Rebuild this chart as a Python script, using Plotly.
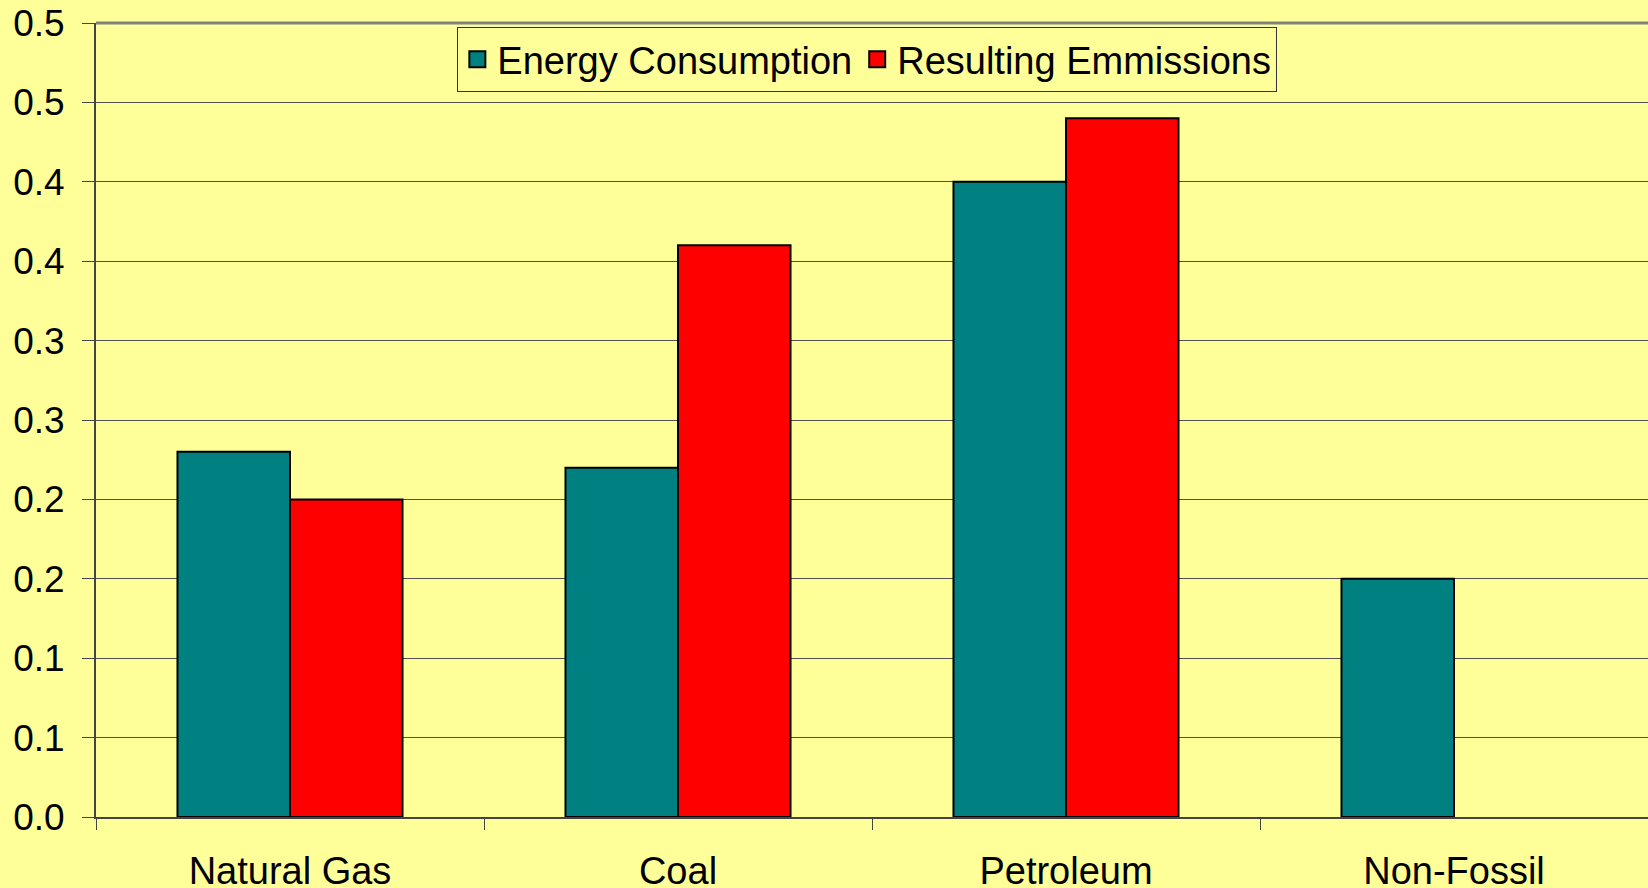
import plotly.graph_objects as go

categories = ["Natural Gas", "Coal", "Petroleum", "Non-Fossil"]
energy_consumption = [0.23, 0.22, 0.40, 0.15]
resulting_emissions = [0.20, 0.36, 0.44, None]
series_names = ["Energy Consumption", "Resulting Emmissions"]
series_colors = ["#008080", "#FF0000"]
y_tickvals = [0.0, 0.05, 0.10, 0.15, 0.20, 0.25, 0.30, 0.35, 0.40, 0.45, 0.50]
y_ticktext = ["0.0", "0.1", "0.1", "0.2", "0.2", "0.3", "0.3", "0.4", "0.4", "0.5", "0.5"]

BG = "#FFFF99"
FONT = "Liberation Sans, Arial, sans-serif"

fig = go.Figure()
for name, color, values in zip(series_names, series_colors,
                               [energy_consumption, resulting_emissions]):
    fig.add_trace(go.Bar(
        x=categories, y=values, name=name, legendgroup=name, showlegend=False,
        marker=dict(color=color, line=dict(color="#000000", width=2)),
    ))
# legend swatches (larger squares, like the original)
for name, color in zip(series_names, series_colors):
    fig.add_trace(go.Scatter(
        x=[None], y=[None], mode="markers", name=name, legendgroup=name,
        marker=dict(symbol="square", size=16, color=color,
                    line=dict(color="#000000", width=2)),
        hoverinfo="skip",
    ))

fig.update_layout(
    width=1648, height=888,
    paper_bgcolor=BG, plot_bgcolor=BG,
    margin=dict(l=96, r=0, t=23, b=71, autoexpand=False),
    barmode="group", bargap=0.42, bargroupgap=0,
    font=dict(family=FONT, color="#000000", size=37),
    showlegend=True,
    legend=dict(
        orientation="h", x=0.497, xanchor="center", y=0.995, yanchor="top",
        bgcolor=BG, bordercolor="#333333", borderwidth=1,
        font=dict(size=38, family=FONT), itemsizing="trace",
        itemclick=False, itemdoubleclick=False,
    ),
    xaxis=dict(
        type="category", showgrid=False, tickson="boundaries",
        ticks="outside", ticklen=11, tickcolor="#444444", tickwidth=1,
        showline=True, linecolor="#444444", linewidth=2,
        tickfont=dict(size=38, family=FONT), ticklabelstandoff=19,
    ),
    yaxis=dict(
        range=[0, 0.5], tickvals=y_tickvals, ticktext=y_ticktext,
        showgrid=True, gridcolor="#505050", gridwidth=1,
        ticks="outside", ticklen=12, tickcolor="#444444",
        showline=True, linecolor="#444444", linewidth=2,
        zeroline=False,
        tickfont=dict(size=37, family=FONT), ticklabelstandoff=10,
    ),
    shapes=[dict(type="line", xref="paper", yref="paper", x0=0, x1=1, y0=1, y1=1,
                 line=dict(color="#808080", width=3), layer="above")],
)

fig.write_html(
    "out.html",
    config={"displayModeBar": False},
    post_script="document.body.style.margin='0';document.body.style.background='#FFFF99';",
)
